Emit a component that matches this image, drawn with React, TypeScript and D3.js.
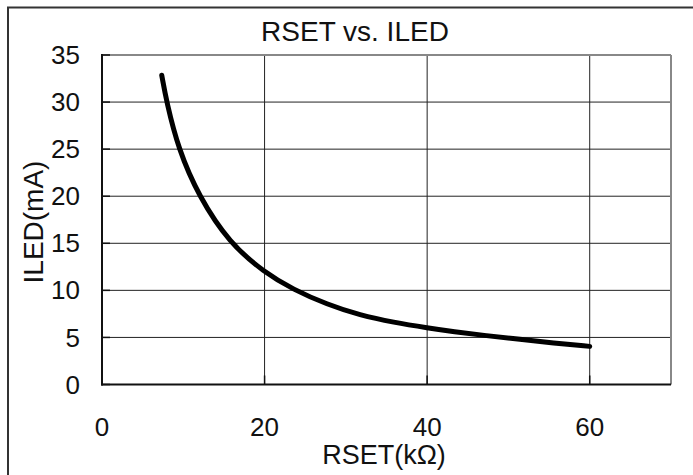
import React from "react";
import * as d3 from "d3";

// points
const rset = [7.35, 7.95, 9.4, 11.9, 15.7, 20, 23.5, 27.7, 31.75, 35.85, 40.2, 43.2, 47.3, 51.4, 55.5, 60];
const iled = [32.85, 30, 25, 20, 15, 11.9, 10.1, 8.5, 7.35, 6.6, 6.0, 5.62, 5.18, 4.8, 4.4, 4.05];

const xTicks = [0, 20, 40, 60];
const yTicks = [0, 5, 10, 15, 20, 25, 30, 35];
const xGrid = [20, 40, 60];
const yGrid = [5, 10, 15, 20, 25, 30];

const title = "RSET vs. ILED";
const xLabel = "RSET(kΩ)";
const yLabel = "ILED(mA)";

const W = 693;
const H = 475;
const font = "'Liberation Sans', Arial, sans-serif";

const App = () => {
  // plot area
  const left = 102;
  const right = 671;
  const top = 55;
  const bottom = 384.5;

  const x = d3.scaleLinear().domain([0, 70]).range([left, right]);
  const y = d3.scaleLinear().domain([0, 35]).range([bottom, top]);

  const points = rset.map((r, i) => [r, iled[i]] as [number, number]);
  const line = d3
    .line<[number, number]>()
    .x((d) => x(d[0]))
    .y((d) => y(d[1]))
    .curve(d3.curveBasis);

  return (
    <svg
      width={W}
      height={H}
      style={{ position: "absolute", left: 0, top: 0, background: "#fff" }}
      fontFamily={font}
    >
      {/* outer frame */}
      <rect x={8} y={7.5} width={W + 20} height={H + 20} fill="none" stroke="#333" strokeWidth={2} />

      <text x={355} y={41} textAnchor="middle" fontSize={28} fill="#111">
        {title}
      </text>

      {/* grid */}
      {xGrid.map((t) => (
        <line key={"gx" + t} x1={x(t)} x2={x(t)} y1={top} y2={bottom} stroke="#222" strokeWidth={1} />
      ))}
      {yGrid.map((t) => (
        <line key={"gy" + t} x1={left} x2={right} y1={y(t)} y2={y(t)} stroke="#222" strokeWidth={1} />
      ))}

      {/* top and right border */}
      <line x1={left} x2={right} y1={top} y2={top} stroke="#888" strokeWidth={2} />
      <line x1={right} x2={right} y1={top} y2={bottom} stroke="#888" strokeWidth={2} />

      {/* ticks */}
      {yTicks.map((t) => (
        <line key={"ty" + t} x1={left} x2={left + 8} y1={y(t)} y2={y(t)} stroke="#111" strokeWidth={1.5} />
      ))}
      {xTicks.map((t) => (
        <line key={"tx" + t} x1={x(t)} x2={x(t)} y1={bottom} y2={bottom - 9} stroke="#111" strokeWidth={1.5} />
      ))}

      {/* axes */}
      <line x1={left} x2={left} y1={top - 1} y2={bottom + 1} stroke="#111" strokeWidth={2} />
      <line x1={left - 1} x2={right} y1={bottom} y2={bottom} stroke="#111" strokeWidth={2} />

      {/* curve */}
      <path d={line(points) || ""} fill="none" stroke="#000" strokeWidth={5} strokeLinecap="round" />

      {/* tick labels */}
      {yTicks.map((t) => (
        <text key={"ly" + t} x={80} y={y(t)} dy="0.35em" textAnchor="end" fontSize={26} fill="#111">
          {t}
        </text>
      ))}
      {xTicks.map((t) => (
        <text key={"lx" + t} x={x(t)} y={436} textAnchor="middle" fontSize={26} fill="#111">
          {t}
        </text>
      ))}

      <text x={384} y={464} textAnchor="middle" fontSize={27} fill="#111">
        {xLabel}
      </text>
      <text transform={`translate(43, 222) rotate(-90)`} textAnchor="middle" fontSize={28} fill="#111">
        {yLabel}
      </text>
    </svg>
  );
};

export default App;
